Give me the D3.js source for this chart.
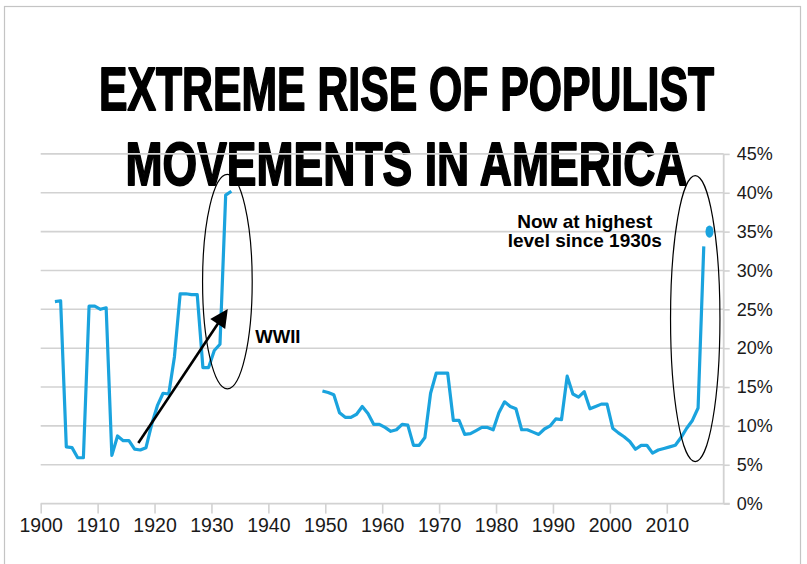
<!DOCTYPE html>
<html>
<head>
<meta charset="utf-8">
<script src="https://cdn.jsdelivr.net/npm/d3@7"></script>
<style>
  html, body { margin: 0; padding: 0; background: #fff; }
  svg { display: block; }
</style>
</head>
<body>
<script>
// Share of vote for populist movements, yearly, two periods
const earlyYears = d3.range(1902, 1934);
const earlyValues = [26.0, 26.1, 7.3, 7.2, 5.9, 5.9, 25.4, 25.4, 25.0, 25.2,
  6.2, 8.7, 8.1, 8.1, 7.0, 6.9, 7.2, 10.2, 12.6, 14.2,
  14.1, 18.9, 27.0, 27.0, 26.9, 26.9, 17.5, 17.5, 19.7, 20.5,
  39.7, 40.2];

const lateYears = d3.range(1949, 2017);
const lateValues = [14.5, 14.3, 14.0, 11.7, 11.1, 11.1, 11.5, 12.5, 11.6, 10.2,
  10.2, 9.8, 9.3, 9.5, 10.2, 10.1, 7.5, 7.5, 8.5, 14.2,
  16.8, 16.8, 16.8, 10.7, 10.7, 8.9, 9.0, 9.4, 9.8, 9.8,
  9.5, 11.7, 13.1, 12.5, 12.2, 9.5, 9.5, 9.2, 8.9, 9.6,
  10.0, 10.9, 10.8, 16.4, 14.1, 13.7, 14.4, 12.2, 12.5, 12.8,
  12.8, 9.7, 9.1, 8.6, 8.0, 7.0, 7.5, 7.5, 6.5, 6.9,
  7.1, 7.3, 7.5, 8.5, 9.7, 10.7, 12.3, 33.1];

// Latest reading, shown as a single dot
const latestYear = 2017;
const latestValue = 35.0;

const xTicks = [1900, 1910, 1920, 1930, 1940, 1950, 1960, 1970, 1980, 1990, 2000, 2010];
const yTicks = [0, 5, 10, 15, 20, 25, 30, 35, 40, 45];
const titleLines = ["EXTREME RISE OF POPULIST", "MOVEMENTS IN AMERICA"];
const noteLines = ["Now at highest", "level since 1930s"];

const W = 807, H = 564;
const blue = "#1aa3de";
const grid = "#d2d2d2";

const svg = d3.select("body").append("svg")
  .attr("width", W).attr("height", H);

// outer frame
svg.append("rect")
  .attr("x", 4.5).attr("y", 6.5).attr("width", 796).attr("height", 580)
  .attr("fill", "none").attr("stroke", "#c4c4c4").attr("stroke-width", 1.2);

// title
const titleWidths = [615, 562];
titleLines.forEach((t, i) => {
  svg.append("text")
    .attr("x", 406.5).attr("y", 110 + i * 75)
    .attr("text-anchor", "middle")
    .attr("font-family", "'Liberation Sans Narrow', 'Arial Narrow', sans-serif")
    .attr("font-weight", "bold")
    .attr("font-size", 61)
    .attr("textLength", titleWidths[i])
    .attr("lengthAdjust", "spacingAndGlyphs")
    .attr("fill", "#000")
    .attr("stroke", "#000").attr("stroke-width", 1.8)
    .attr("stroke-linejoin", "round")
    .text(t);
});

const x = d3.scaleLinear().domain([1900, 2020]).range([40.7, 723.7]);
const y = d3.scaleLinear().domain([0, 45]).range([503.6, 153.9]);

// horizontal gridlines
svg.append("g").selectAll("line").data(yTicks.filter(d => d > 0)).join("line")
  .attr("x1", x(1900)).attr("x2", x(2020))
  .attr("y1", d => y(d)).attr("y2", d => y(d))
  .attr("stroke", grid).attr("stroke-width", 1.6);

// right value axis
const yAxis = svg.append("g")
  .attr("transform", `translate(${x(2020)},0)`)
  .call(d3.axisRight(y).tickValues(yTicks).tickSize(6).tickPadding(7)
    .tickFormat(d => d + "%"));
yAxis.select(".domain").attr("stroke", grid).attr("stroke-width", 1.8)
  .attr("d", `M0,${y(45)}V${y(0)}`);
yAxis.selectAll(".tick line").attr("stroke", grid).attr("stroke-width", 1.6);
yAxis.selectAll(".tick text")
  .attr("font-family", "'Liberation Sans', Arial, sans-serif")
  .attr("font-size", 18).attr("fill", "#1a1a1a");

// bottom year axis
const xAxis = svg.append("g")
  .attr("transform", `translate(0,${y(0)})`)
  .call(d3.axisBottom(x).tickValues(xTicks).tickSize(10).tickPadding(5)
    .tickFormat(d3.format("d")));
xAxis.select(".domain").attr("stroke", grid).attr("stroke-width", 1.8)
  .attr("d", `M${x(1900)},0H${x(2020) + 6}`);
xAxis.selectAll(".tick line").attr("stroke", grid).attr("stroke-width", 1.6);
xAxis.selectAll(".tick text")
  .attr("font-family", "'Liberation Sans', Arial, sans-serif")
  .attr("font-size", 19.5).attr("fill", "#1a1a1a");

// each yearly value sits at mid-year
const line = d3.line()
  .x(d => x(d[0] + 0.5))
  .y(d => y(d[1]))
  .curve(d3.curveLinear);

const earlySeries = earlyYears.map((yr, i) => [yr, earlyValues[i]]);
const lateSeries = lateYears.map((yr, i) => [yr, lateValues[i]]);

[earlySeries, lateSeries].forEach(s => {
  svg.append("path").datum(s)
    .attr("d", line)
    .attr("fill", "none")
    .attr("stroke", blue)
    .attr("stroke-width", 3.2)
    .attr("stroke-linejoin", "round");
});

svg.append("ellipse")
  .attr("cx", x(latestYear + 0.5)).attr("cy", y(latestValue))
  .attr("rx", 4).attr("ry", 6.2)
  .attr("fill", blue);

// annotation ellipses (centre year, centre value, half-width in years, half-height in %)
const rings = [
  { cx: 1932.8, cy: 28.56, rx: 4.36, ry: 13.8 },
  { cx: 2015.0, cy: 23.8, rx: 4.34, ry: 18.4 }
];
rings.forEach(r => {
  svg.append("ellipse")
    .attr("cx", x(r.cx)).attr("cy", y(r.cy))
    .attr("rx", x(r.cx + r.rx) - x(r.cx))
    .attr("ry", y(r.cy - r.ry) - y(r.cy))
    .attr("fill", "none").attr("stroke", "#000").attr("stroke-width", 1.2);
});

// arrow pointing into the 1930s spike
const arrowFrom = [1917.15, 7.8], arrowTo = [1932.86, 25.04];
const ax0 = x(arrowFrom[0]), ay0 = y(arrowFrom[1]);
const ax1 = x(arrowTo[0]), ay1 = y(arrowTo[1]);
const len = Math.hypot(ax1 - ax0, ay1 - ay0);
const ux = (ax1 - ax0) / len, uy = (ay1 - ay0) / len;
const headL = 18, headW = 9;
const bx = ax1 - ux * headL, by = ay1 - uy * headL;
svg.append("line")
  .attr("x1", ax0).attr("y1", ay0)
  .attr("x2", bx + ux * 2).attr("y2", by + uy * 2)
  .attr("stroke", "#000").attr("stroke-width", 2.6);
svg.append("path")
  .attr("d", `M${ax1},${ay1}L${bx - uy * headW},${by + ux * headW}L${bx + uy * headW},${by - ux * headW}Z`)
  .attr("fill", "#000");

svg.append("text")
  .attr("x", x(1937.7)).attr("y", y(20.7))
  .attr("font-family", "'Liberation Sans', Arial, sans-serif")
  .attr("font-weight", "bold").attr("font-size", 18.5)
  .attr("fill", "#000")
  .text("WWII");

noteLines.forEach((t, i) => {
  svg.append("text")
    .attr("x", x(1995.6)).attr("y", y(35.45) + i * 18.7)
    .attr("text-anchor", "middle")
    .attr("font-family", "'Liberation Sans', Arial, sans-serif")
    .attr("font-weight", "bold").attr("font-size", 19)
    .attr("fill", "#000")
    .text(t);
});
</script>
</body>
</html>
